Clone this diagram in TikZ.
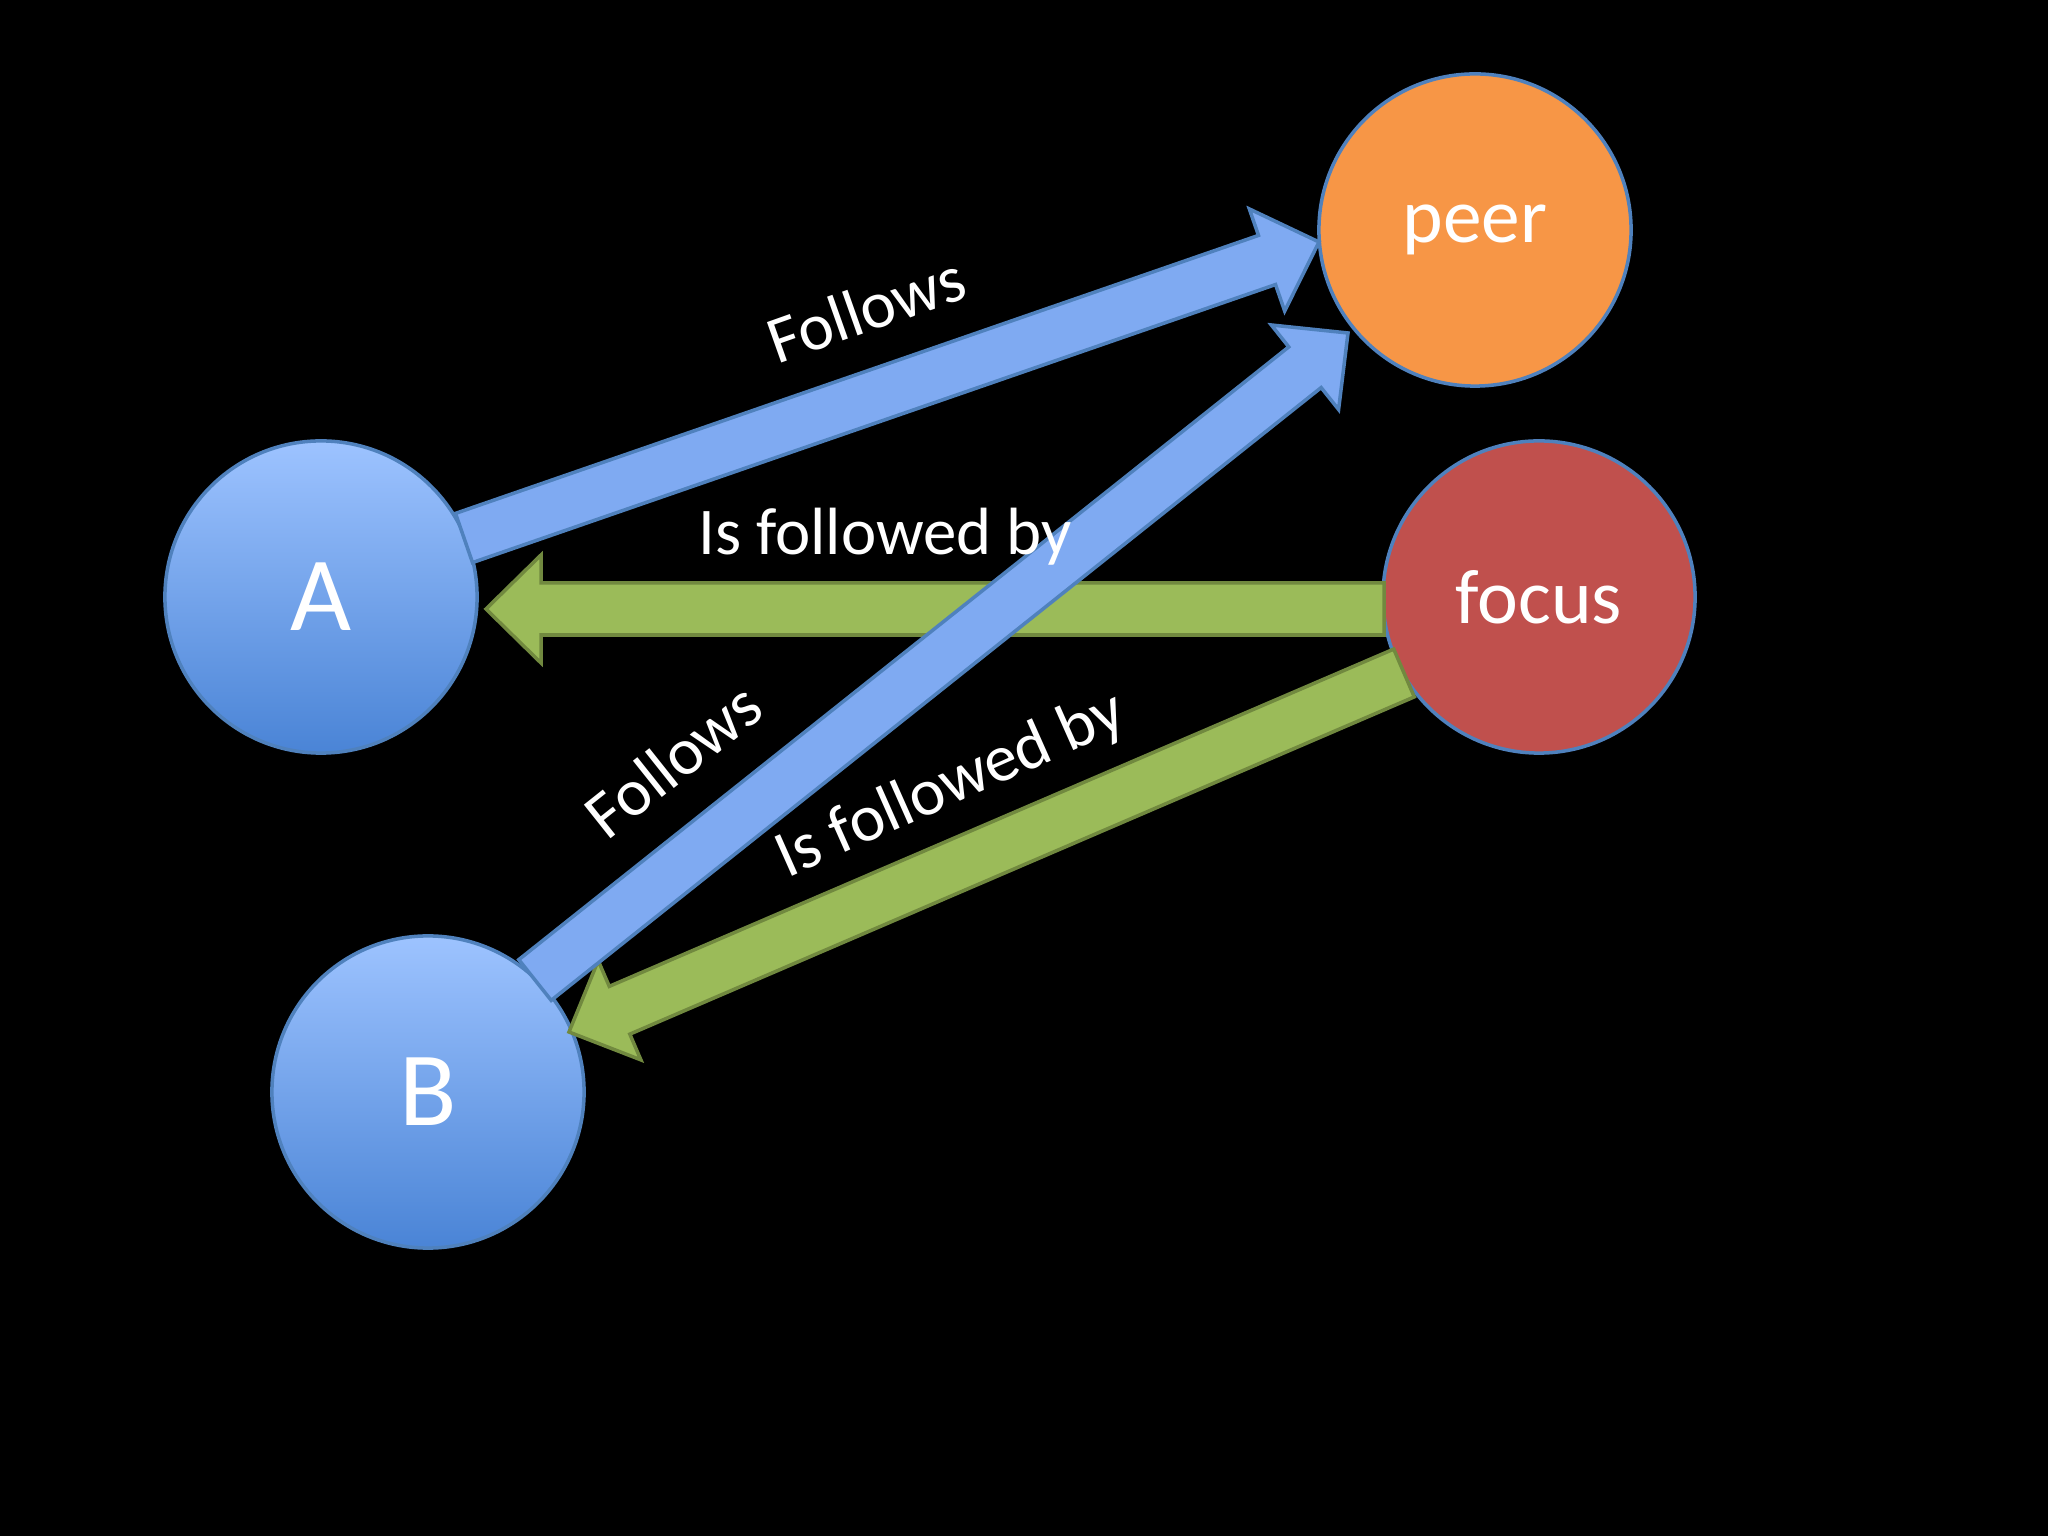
\documentclass[tikz,border=0pt]{standalone}
\usepackage{fontspec}
\setmainfont{Carlito}
\usetikzlibrary{calc}
\definecolor{blt}{HTML}{9DC3FF}
\definecolor{blb}{HTML}{4A84D6}
\definecolor{bld}{HTML}{4F81BD}
\definecolor{arb}{HTML}{7FAAF2}
\definecolor{grn}{HTML}{9BBB59}
\definecolor{grd}{HTML}{71893F}
\definecolor{org}{HTML}{F79646}
\definecolor{red}{HTML}{C0504D}
\newcommand\barrow[4]{%
 \coordinate (h) at ($(#2)!0.55cm!(#1)$);
 \filldraw[#3,draw=#4,line width=1] ($(#1)!0.26cm!90:(#2)$) -- ($(h)!0.26cm!90:(#2)$) -- ($(h)!0.54cm!90:(#2)$) -- (#2) -- ($(h)!0.54cm!-90:(#2)$) -- ($(h)!0.26cm!-90:(#2)$) -- ($(#1)!0.26cm!-90:(#2)$) -- cycle;}
\begin{document}
\begin{tikzpicture}[x=0.01cm,y=0.01cm,
 circ/.style={circle,minimum size=3.12cm,inner sep=0,draw=bld,line width=1,text=white},
 lab/.style={text=white,font=\fontsize{19pt}{21pt}\selectfont,inner sep=0}]
\fill[black] (0,0) rectangle (2048,1536);
\node[circ,top color=blt,bottom color=blb,font=\fontsize{30pt}{32pt}\selectfont] (A) at (321,939) {A};
\node[circ,top color=blt,bottom color=blb,font=\fontsize{30pt}{32pt}\selectfont] (B) at (428,444) {B};
\node[circ,fill=org,font=\fontsize{22pt}{24pt}\selectfont] (peer) at (1475,1306) {\raisebox{-0.25em}{peer}};
\node[circ,fill=red,font=\fontsize{22pt}{24pt}\selectfont] (focus) at (1539,939) {focus};
\coordinate (g1s) at (1384,927); \coordinate (g1t) at (486,927);
\coordinate (g2s) at (1404,863); \coordinate (g2t) at (569,504);
\coordinate (b1s) at (464,998); \coordinate (b1t) at (1319,1294);
\coordinate (b2s) at (535,556); \coordinate (b2t) at (1348,1203);
\barrow{g1s}{g1t}{fill=grn}{grd}
\barrow{g2s}{g2t}{fill=grn}{grd}
\barrow{b1s}{b1t}{fill=arb}{bld}
\barrow{b2s}{b2t}{fill=arb}{bld}
\node[lab,rotate=19.5] (l1) at (866,1227) {Follows};
\node[lab] (l2) at (885,999) {Is followed by};
\node[lab,rotate=38.5] (l3) at (673,776) {Follows};
\node[lab,rotate=24] (l4) at (951,750) {Is followed by};
\end{tikzpicture}
\end{document}
